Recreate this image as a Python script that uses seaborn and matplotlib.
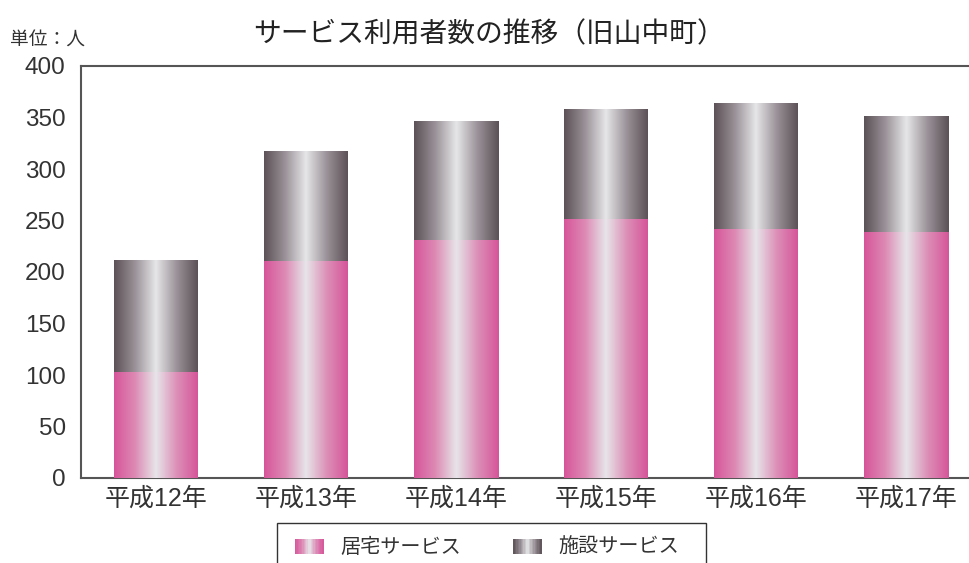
import numpy as np
import pandas as pd
import matplotlib.pyplot as plt
import seaborn as sns
from matplotlib.colors import LinearSegmentedColormap
from matplotlib.patches import Rectangle
from matplotlib.legend_handler import HandlerBase

years = ['平成12年', '平成13年', '平成14年', '平成15年', '平成16年', '平成17年']
kyotaku = [102, 210, 231, 251, 241, 238]   # 居宅サービス
shisetsu = [109, 107, 115, 107, 123, 113]  # 施設サービス
series_names = ['居宅サービス', '施設サービス']
y_ticks = [0, 50, 100, 150, 200, 250, 300, 350, 400]

sns.set_style('white')
plt.rcParams['font.family'] = ['Liberation Sans', 'Noto Sans CJK JP', 'DejaVu Sans']

pink_cmap = LinearSegmentedColormap.from_list(
    'pink', ['#d6559a', '#dd8ab4', '#e7e5e9', '#dc8fb7', '#d6559a'])
grey_cmap = LinearSegmentedColormap.from_list(
    'grey', ['#5b5157', '#9a9298', '#e6e6e8', '#9a9298', '#5b5157'])

df = pd.DataFrame({'year': years, 'kyotaku': kyotaku, 'shisetsu': shisetsu})
df['total'] = df['kyotaku'] + df['shisetsu']

fig = plt.figure(figsize=(9.7, 5.63), dpi=100)
ax = fig.add_axes([81 / 970, 1 - 478 / 563, 900 / 970, 412 / 563])

sns.barplot(data=df, x='year', y='total', ax=ax, width=0.56, color='#888888')
n_total = len(ax.patches)
sns.barplot(data=df, x='year', y='kyotaku', ax=ax, width=0.56, color='#dd77aa')

grad = np.linspace(0, 1, 256).reshape(1, -1)
for i, p in enumerate(ax.patches):
    x0, y0 = p.get_x(), p.get_y()
    w, h = p.get_width(), p.get_height()
    cmap = grey_cmap if i < n_total else pink_cmap
    ax.imshow(grad, cmap=cmap, aspect='auto', extent=[x0, x0 + w, y0, y0 + h],
              zorder=2 + (i >= n_total), interpolation='bilinear')
    p.set_facecolor('none')
    p.set_edgecolor('none')

ax.set_xlim(-0.5, len(years) - 0.5)
ax.set_ylim(0, 400)
ax.set_yticks(y_ticks)
ax.set_xlabel('')
ax.set_ylabel('')

for s in ['left', 'bottom', 'top', 'right']:
    ax.spines[s].set_color('#555555')
    ax.spines[s].set_linewidth(1.5)

ax.tick_params(axis='y', direction='in', length=16, width=1, color='#333333',
               labelsize=17.5, labelcolor='#333333', pad=11)
ax.tick_params(axis='x', which='major', length=0, labelsize=18,
               labelcolor='#333333', pad=6)
ax.set_xticks(np.arange(len(years)) + 0.5, minor=True)
ax.tick_params(axis='x', which='minor', direction='in', length=7, width=1,
               color='#333333')

fig.text(489 / 970, 1 - 35 / 563, 'サービス利用者数の推移（旧山中町）',
         ha='center', va='center', fontsize=20, color='#222222')
fig.text(10 / 970, 1 - 41 / 563, '単位：人', ha='left', va='center',
         fontsize=13.5, color='#333333')


class GradientHandler(HandlerBase):
    def __init__(self, cmap):
        super().__init__()
        self.cmap = cmap

    def create_artists(self, legend, orig_handle, xdescent, ydescent,
                       width, height, fontsize, trans):
        n = 20
        arts = []
        for k in range(n):
            r = Rectangle((-xdescent + width * k / n, -ydescent), width / n + 0.3,
                          height, facecolor=self.cmap((k + 0.5) / n),
                          edgecolor='none', transform=trans)
            arts.append(r)
        return arts


h1 = Rectangle((0, 0), 1, 1)
h2 = Rectangle((0, 0), 1, 1)
fig.legend([h1, h2], series_names, loc='upper left',
           bbox_to_anchor=(285 / 970, 1 - 528 / 563), ncol=2, frameon=False,
           fontsize=14.5, handlelength=1.4, handleheight=0.78,
           handletextpad=0.85, columnspacing=2.6, borderpad=0,
           labelcolor='#333333',
           handler_map={h1: GradientHandler(pink_cmap),
                        h2: GradientHandler(grey_cmap)})
fig.add_artist(Rectangle((277 / 970, -0.05), 429 / 970, 0.05 + 1 - 523 / 563,
                         transform=fig.transFigure, facecolor='none',
                         edgecolor='#333333', linewidth=1))

fig.savefig('out.png', dpi=100)
